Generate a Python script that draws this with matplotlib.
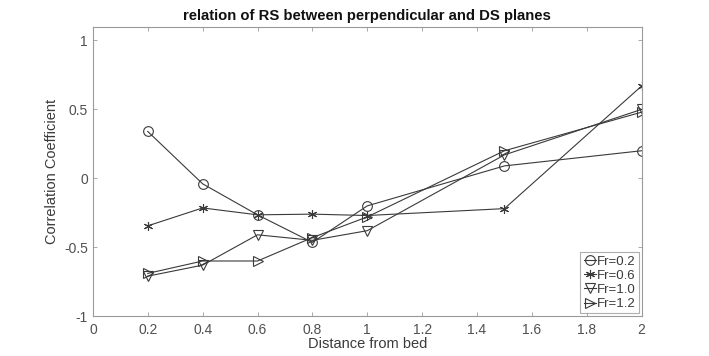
import matplotlib
matplotlib.use("Agg")
import matplotlib.pyplot as plt
import numpy as np

# data
distance = [0.2, 0.4, 0.6, 0.8, 1.0, 1.5, 2.0]
fr02 = [0.34, -0.04, -0.265, -0.465, -0.20, 0.09, 0.20]
fr06 = [-0.345, -0.215, -0.265, -0.26, -0.27, -0.22, 0.67]
fr10 = [-0.71, -0.63, -0.41, -0.45, -0.38, 0.17, 0.50]
fr12 = [-0.69, -0.60, -0.60, -0.43, -0.28, 0.20, 0.48]
labels = ["Fr=0.2", "Fr=0.6", "Fr=1.0", "Fr=1.2"]
markers = ["o", (6, 2, 0), "v", ">"]   # (6, 2, 0) = asterisk like MATLAB '*'

x_ticks = [0, 0.2, 0.4, 0.6, 0.8, 1, 1.2, 1.4, 1.6, 1.8, 2]
x_tick_labels = ["0", "0.2", "0.4", "0.6", "0.8", "1", "1.2", "1.4", "1.6", "1.8", "2"]
y_ticks = [-1, -0.5, 0, 0.5, 1]
y_tick_labels = ["-1", "-0.5", "0", "0.5", "1"]

plt.rcParams["font.family"] = ["Liberation Sans", "DejaVu Sans"]

fig = plt.figure(figsize=(7.09, 3.56), dpi=100)
ax = fig.add_axes([0.131, 0.112, 0.774, 0.813])

line_col = "#3a3a3a"
for ys, lab, mk in zip([fr02, fr06, fr10, fr12], labels, markers):
    ms = 7 if mk == "o" else 6.5
    ax.plot(distance, ys, color=line_col, linewidth=0.8, marker=mk,
            markersize=ms, markerfacecolor="none", markeredgecolor=line_col,
            markeredgewidth=0.8, label=lab)

ax.set_xlim(0, 2)
ax.set_ylim(-1, 1.1)
ax.set_xticks(x_ticks)
ax.set_xticklabels(x_tick_labels)
ax.set_yticks(y_ticks)
ax.set_yticklabels(y_tick_labels)

gray = "#9a9a9a"
for s in ax.spines.values():
    s.set_color(gray)
    s.set_linewidth(0.8)
ax.tick_params(direction="in", top=True, right=True, length=3, width=0.6,
               color=gray, labelcolor="#505050", labelsize=10)
ax.tick_params(axis="x", pad=5)

ax.set_xlabel("Distance from bed", fontsize=10.5, color="#3a3a3a", labelpad=0)
ax.set_ylabel("Correlation Coefficient", fontsize=10.5, color="#3a3a3a", labelpad=4)
ax.set_title("relation of RS between perpendicular and DS planes",
             fontsize=10.7, fontweight="bold", color="#111111", pad=5)

leg = ax.legend(loc="lower right", fontsize=9.5, handlelength=0.9,
                handletextpad=0.1, borderpad=0.25, labelspacing=0.15,
                borderaxespad=0.2, frameon=True, fancybox=False,
                edgecolor=gray, labelcolor="#3a3a3a")
leg.get_frame().set_linewidth(0.8)

fig.savefig("out.png", dpi=100, facecolor="white")
